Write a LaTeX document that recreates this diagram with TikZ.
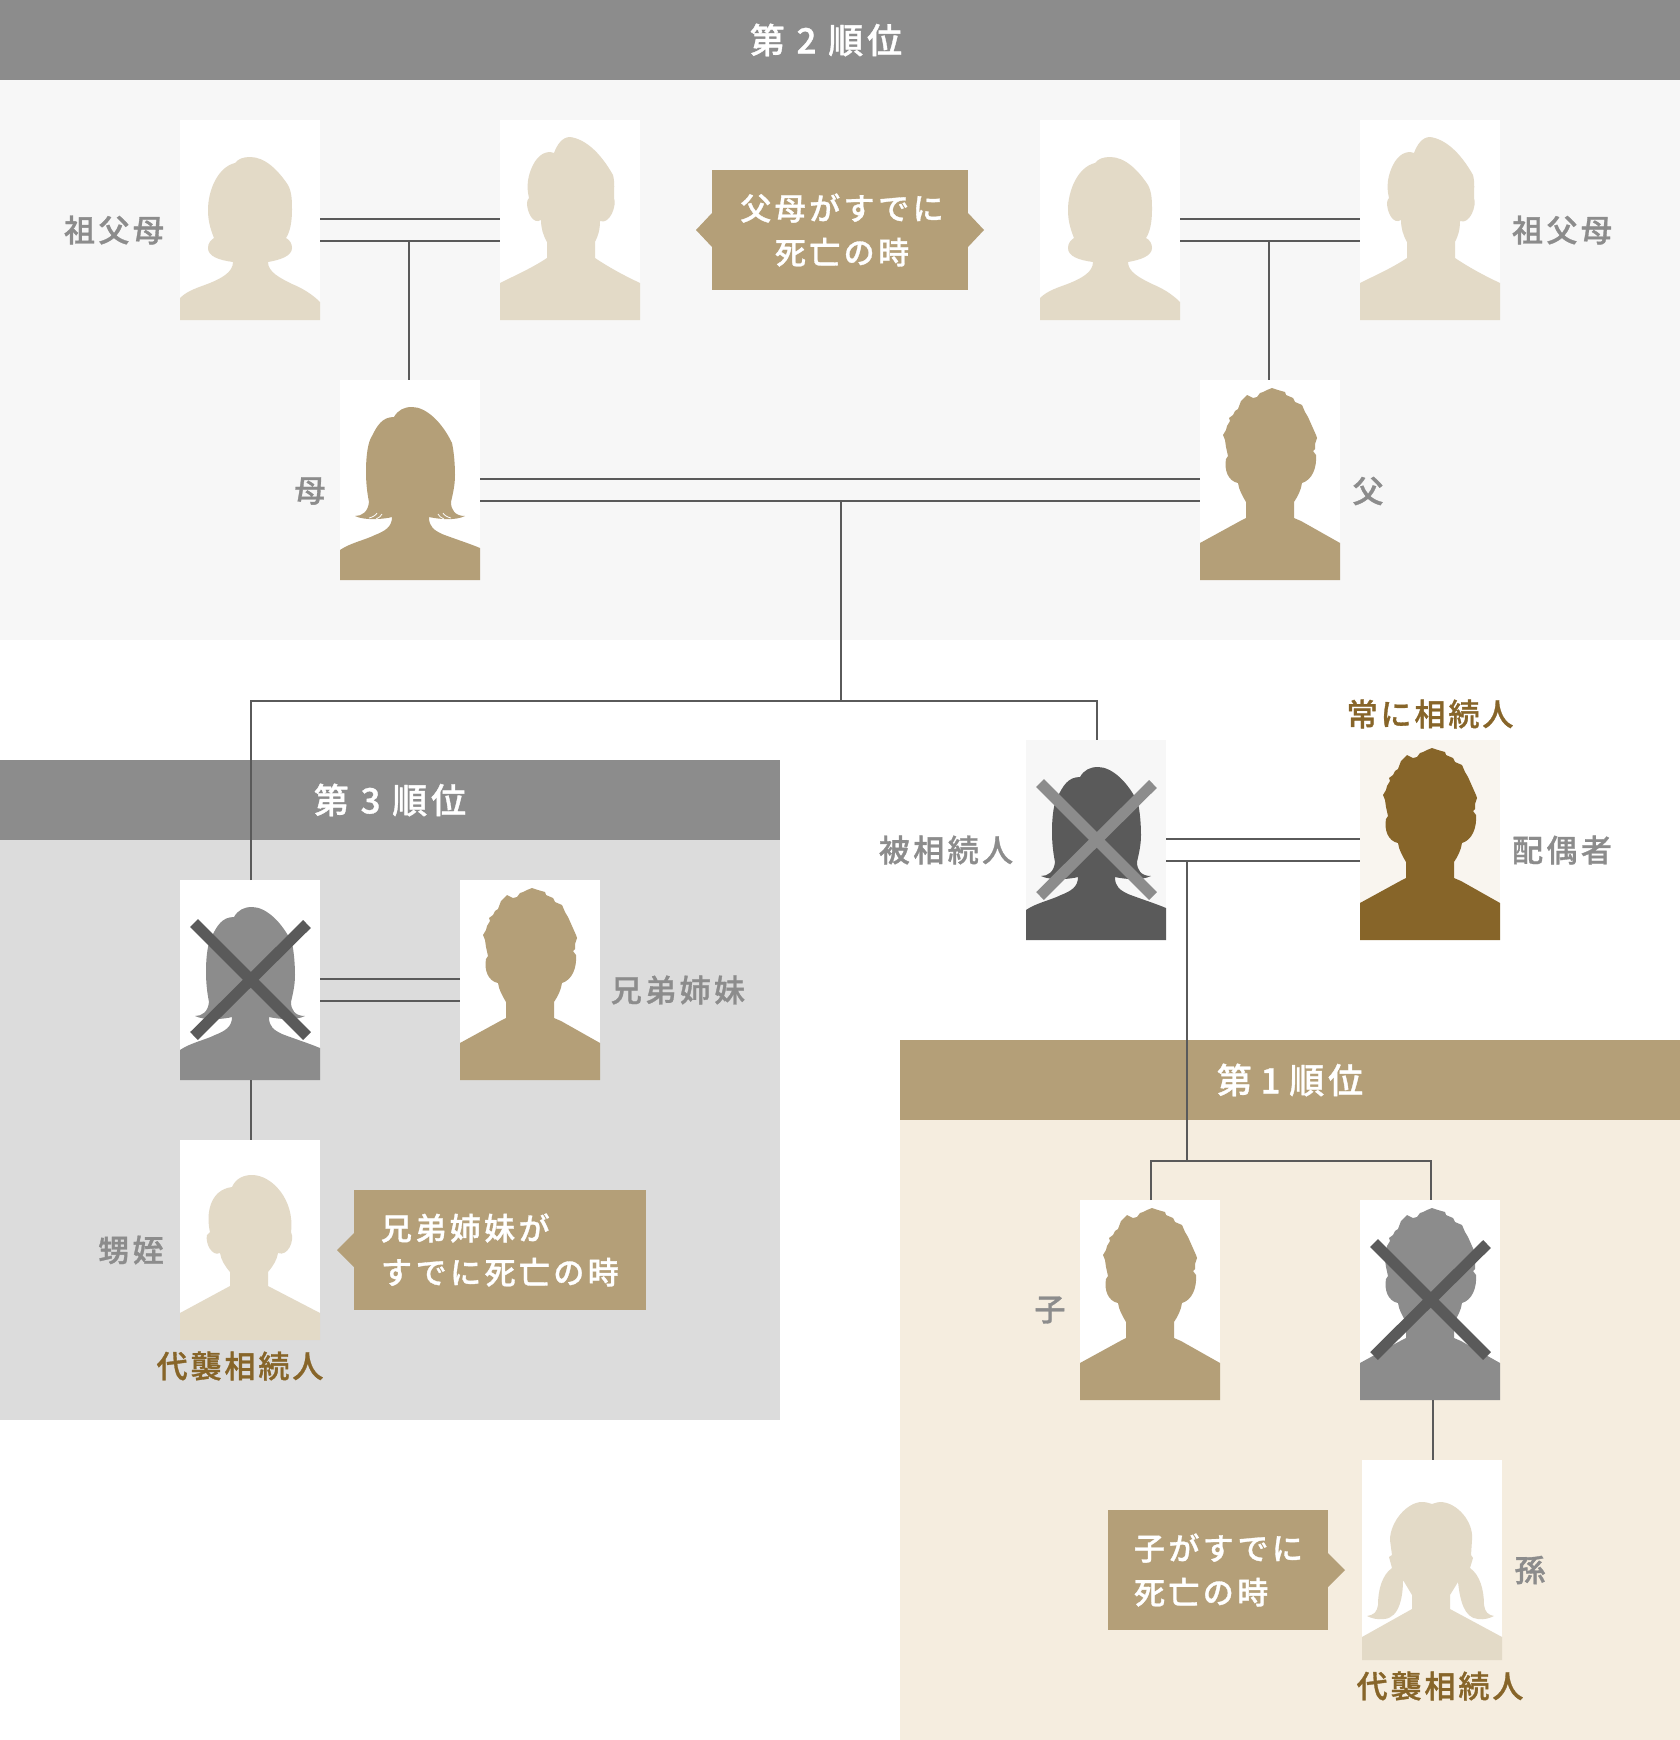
\documentclass[tikz,border=0pt]{standalone}
\usepackage{fontspec}
\setmainfont{Noto Sans CJK JP}[LetterSpace=11]
\newfontfamily\jpm{Noto Sans CJK JP Medium}[LetterSpace=11,FakeBold=1]
\newfontfamily\jph{Noto Sans CJK JP Medium}[LetterSpace=9.5,FakeBold=1]
\definecolor{bandgray}{HTML}{8C8C8C}
\definecolor{panelA}{HTML}{F7F7F7}
\definecolor{panelB}{HTML}{DCDCDC}
\definecolor{panelC}{HTML}{F5EDDF}
\definecolor{tan}{HTML}{B49F78}
\definecolor{pale}{HTML}{E3DAC7}
\definecolor{linegray}{HTML}{5A5A5A}
\definecolor{gold}{HTML}{876529}
\definecolor{spousebg}{HTML}{F9F5EF}
\tikzset{
 band/.style={rectangle,inner sep=0,outer sep=0,text=white,font=\jpm\fontsize{35}{40}\selectfont},
 panel/.style={rectangle,inner sep=0,outer sep=0},
 photo/.style={rectangle,fill=white,minimum width=140,minimum height=200,inner sep=0,outer sep=0},
 lbl/.style={inner sep=0,outer sep=0,text=bandgray,font=\jpm\fontsize{31}{36}\selectfont},
 heir/.style={inner sep=0,outer sep=0,text=gold,font=\jph\fontsize{31}{36}\selectfont},
 callout/.style={rectangle,fill=tan,inner sep=0,outer sep=0,minimum height=120,text=white,font=\jpm\fontsize{31}{44}\selectfont},
 conn/.style={draw=linegray,line width=2pt},
 xbar/.style={line width=11pt},
 pics/womanold/.style={code={\fill[#1] (0,200) -- (0,178) .. controls (8,170) and (20,167) .. (30,163) .. controls (42,158) and (53,152) .. (53,142) .. controls (38,140) and (28,136) .. (28,128) .. controls (28,123) and (31,120) .. (34,118) .. controls (30,108) and (28,100) .. (28,90) .. controls (28,70) and (38,47) .. (55,43) .. controls (58,39) and (63,37) .. (70,37) .. controls (85,37) and (98,50) .. (108,65) .. controls (112,72) and (112,82) .. (112,90) .. controls (112,102) and (110,112) .. (106,118) .. controls (110,120) and (112,124) .. (112,128) .. controls (112,136) and (100,140) .. (88,142) .. controls (88,152) and (100,158) .. (112,164) .. controls (122,168) and (132,174) .. (140,182) -- (140,200) -- cycle;}},
 pics/womanlong/.style={code={\fill[#1] (0,200) -- (0,170) .. controls (10,163) and (25,160) .. (35,155) .. controls (45,151) and (52,147) .. (52,137) .. controls (45,139) and (25,141) .. (15,136) .. controls (22,136) and (28,132) .. (29,122) .. controls (27,112) and (26,102) .. (26,92) .. controls (26,75) and (28,62) .. (32,56) .. controls (37,46) and (42,37) .. (54,37) .. controls (58,30) and (64,27) .. (72,27) .. controls (86,27) and (102,42) .. (112,63) .. controls (114,72) and (115,85) .. (115,95) .. controls (115,105) and (113,113) .. (111,122) .. controls (111,130) and (115,136) .. (125,136) .. controls (115,141) and (98,139) .. (89,137) .. controls (89,147) and (94,150) .. (102,154) .. controls (115,159) and (128,163) .. (140,168) -- (140,200) -- cycle;}},
 pics/hairslits/.style={code={\draw[white,line width=.8pt] (29,138) .. controls (33,137) and (36,135) .. (37,133); \draw[white,line width=.8pt] (36,139) .. controls (39,138) and (41,136) .. (42,134); \draw[white,line width=.8pt] (111,138) .. controls (107,137) and (104,135) .. (103,133); \draw[white,line width=.8pt] (104,139) .. controls (101,138) and (99,136) .. (98,134);}},
 pics/manold/.style={code={\fill[#1] (0,200) -- (0,163) .. controls (16,155) and (32,148) .. (47,138) -- (47,122) .. controls (43,115) and (41,108) .. (41,100) .. controls (33,105) and (27,92) .. (27,83) .. controls (27,81) and (28,79) .. (29,78) .. controls (26,66) and (28,55) .. (33,45) .. controls (38,35) and (46,30) .. (54,33) .. controls (57,25) and (62,17) .. (70,17) .. controls (85,19) and (100,32) .. (113,55) .. controls (115,63) and (114,70) .. (114,78) .. controls (117,85) and (110,105) .. (100,101) .. controls (100,110) and (98,116) .. (95,122) -- (95,138) .. controls (110,148) and (125,156) .. (140,163) -- (140,200) -- cycle;}},
 pics/boy/.style={code={\fill[#1] (0,200) -- (0,173) -- (50,146) -- (50,132) .. controls (45,126) and (41,120) .. (40,113) .. controls (32,117) and (25,103) .. (27,95) -- (30,92) .. controls (26,75) and (29,50) .. (52,47) .. controls (56,38) and (64,35) .. (72,35) .. controls (92,35) and (115,60) .. (111,92) .. controls (115,100) and (108,117) .. (98,113) .. controls (97,120) and (93,126) .. (88,132) -- (88,146) -- (140,173) -- (140,200) -- cycle;}},
 pics/manspiky/.style={code={\fill[#1] (0,200) -- (0,163) -- (42,140) -- (46,138) -- (46,122) .. controls (42,115) and (39,110) .. (38,103) .. controls (28,101) and (24,90) .. (26,79) -- (28,76) -- (26,67) -- (25,60) -- (23,55) -- (26,50) -- (27,46) -- (30,41) -- (29,38) -- (33,35) -- (35,31) -- (38,29) -- (41,21) -- (47,15) -- (53,18) -- (57,17) -- (60,13) -- (63,12) -- (67,10) -- (72,8) -- (78,10) -- (85,12) -- (86,15) -- (93,18) -- (95,22) -- (102,25) -- (105,32) -- (108,37) -- (112,46) -- (116,55) -- (117,58) -- (115,64) -- (115,69) -- (113,71) -- (116,75) .. controls (117,88) and (112,100) .. (102,103) .. controls (101,110) and (98,116) .. (94,122) -- (94,138) -- (101,141) -- (140,163) -- (140,200) -- cycle;}},
 pics/girl/.style={code={\fill[#1] (0,200) -- (0,177) -- (50,149) -- (50,135) -- (41,120) .. controls (41,135) and (38,158) .. (22,159) .. controls (15,160) and (9,158) .. (5,156) .. controls (12,155) and (15,152) .. (16,145) .. controls (16,130) and (20,115) .. (30,108) -- (27,97) -- (30,95) -- (28,80) .. controls (28,62) and (45,42) .. (60,42) .. controls (64,42) and (67,43) .. (70,44) .. controls (73,43) and (76,42) .. (78,42) .. controls (95,42) and (112,62) .. (110,80) -- (109,95) -- (111,98) -- (108,108) .. controls (118,115) and (122,130) .. (122,145) .. controls (123,152) and (126,155) .. (132,156) .. controls (128,158) and (122,160) .. (116,159) .. controls (102,158) and (98,140) .. (96,122) -- (88,135) -- (88,149) -- (140,177) -- (140,200) -- cycle;}},
 pics/xmark/.style={code={\draw[xbar,#1] (14,43) -- (127,156); \draw[xbar,#1] (127,44) -- (14,156);}},
}
\begin{document}
\begin{tikzpicture}[x=1pt,y=-1pt]
\useasboundingbox (0,0) rectangle (1680,1740);
% panels
\node[panel,fill=panelA,minimum width=1680,minimum height=560] (pa) at (840,360) {};
\node[panel,fill=panelB,minimum width=780,minimum height=580] (pb) at (390,1130) {};
\node[panel,fill=panelC,minimum width=780,minimum height=620] (pc) at (1290,1430) {};
\node[band,fill=bandgray,minimum width=1680,minimum height=80] (h2) at (840,40) {\hspace*{-28pt}第 2 順位};
\node[band,fill=bandgray,minimum width=780,minimum height=80] (h3) at (390,800) {第 3 順位};
\node[band,fill=tan,minimum width=780,minimum height=80] (h1) at (1290,1080) {第\kern-3pt{} 1 \kern-3pt順位};
% photos
\node[photo] (gm1) at (250,220) {};
\node[photo] (gf1) at (570,220) {};
\node[photo] (gm2) at (1110,220) {};
\node[photo] (gf2) at (1430,220) {};
\node[photo] (mo) at (410,480) {};
\node[photo] (fa) at (1270,480) {};
\node[photo,fill=panelA] (de) at (1096,840) {};
\node[photo,fill=spousebg] (sp) at (1430,840) {};
\node[photo] (si) at (250,980) {};
\node[photo] (br) at (530,980) {};
\node[photo] (ne) at (250,1240) {};
\node[photo] (ch) at (1150,1300) {};
\node[photo] (dc) at (1430,1300) {};
\node[photo] (gc) at (1432,1560) {};
% silhouettes
\pic at (gm1.north west) {womanold=pale};
\pic at (gf1.north west) {manold=pale};
\pic at (gm2.north west) {womanold=pale};
\pic at (gf2.north west) {manold=pale};
\pic at (mo.north west) {womanlong=tan};
\pic at (mo.north west) {hairslits};
\pic at (fa.north west) {manspiky=tan};
\pic at (de.north west) {womanlong=linegray};
\pic at (de.north west) {xmark=bandgray};
\pic at (sp.north west) {manspiky=gold};
\pic at (si.north west) {womanlong=bandgray};
\pic at (si.north west) {xmark=linegray};
\pic at (br.north west) {manspiky=tan};
\pic at (ne.north west) {boy=pale};
\pic at (ch.north west) {manspiky=tan};
\pic at (dc.north west) {manspiky=bandgray};
\pic at (dc.north west) {xmark=linegray};
\pic at (gc.north west) {girl=pale};
% junctions
\coordinate (jl) at (409,241);
\coordinate (jr) at (1269,241);
\coordinate (jp) at (841,501);
\coordinate (tl) at (251,701);
\coordinate (tm) at (841,701);
\coordinate (tr) at (1097,701);
\coordinate (js) at (1187,861);
\coordinate (cm) at (1187,1161);
\coordinate (cl) at (1151,1161);
\coordinate (cr) at (1431,1161);
\coordinate (vg) at (1433,1430);
\coordinate (vn) at (251,1110);
% connectors
\draw[conn] ([yshift=1pt]gm1.east) -- ([yshift=1pt]gf1.west);
\draw[conn] ([yshift=-21pt]gm1.east) -- ([yshift=-21pt]gf1.west);
\draw[conn] ([yshift=1pt]gm2.east) -- ([yshift=1pt]gf2.west);
\draw[conn] ([yshift=-21pt]gm2.east) -- ([yshift=-21pt]gf2.west);
\draw[conn] (jl) -- (jl |- mo.north);
\draw[conn] (jr) -- (jr |- fa.north);
\draw[conn] ([yshift=1pt]mo.east) -- ([yshift=1pt]fa.west);
\draw[conn] ([yshift=-21pt]mo.east) -- ([yshift=-21pt]fa.west);
\draw[conn] (jp) -- (tm);
\draw[conn] (tl |- si.north) -- (tl) -- (tr) -- (tr |- de.north);
\draw[conn] ([yshift=1pt]de.east) -- ([yshift=1pt]sp.west);
\draw[conn] ([yshift=-21pt]de.east) -- ([yshift=-21pt]sp.west);
\draw[conn] (js) -- (cm);
\draw[conn] (cl |- ch.north) -- (cl) -- (cr) -- (cr |- dc.north);
\draw[conn] ([yshift=1pt]si.east) -- ([yshift=1pt]br.west);
\draw[conn] ([yshift=-21pt]si.east) -- ([yshift=-21pt]br.west);
\draw[conn] (vn |- si.south) -- (vn |- ne.north);
\draw[conn] (vg |- dc.south) -- (vg |- gc.north);
% callouts
\node[callout,minimum width=256,align=center] (c1) at (840,230) {\hspace*{4pt}父母がすでに\\\hspace*{4pt}死亡の時};
\fill[tan] ([yshift=17pt]c1.west) -- ++(-16,17) -- ++(16,17) -- cycle;
\fill[tan] ([yshift=17pt]c1.east) -- ++(16,17) -- ++(-16,17) -- cycle;
\node[callout,minimum width=292,align=left,text width=256] (c2) at (500,1250) {\hspace*{9pt}兄弟姉妹が\\\hspace*{9pt}すでに死亡の時};
\fill[tan] ([yshift=17pt]c2.west) -- ++(-17,17) -- ++(17,17) -- cycle;
\node[callout,minimum width=220,align=left,text width=192] (c3) at (1218,1570) {\hspace*{12pt}子がすでに\\\hspace*{12pt}死亡の時};
\fill[tan] ([yshift=17pt]c3.east) -- ++(17,17) -- ++(-17,17) -- cycle;
% labels
\node[lbl] (l1) at (114,230) {祖父母};
\node[lbl] (l2) at (1562,230) {祖父母};
\node[lbl] (l3) at (310,491) {母};
\node[lbl] (l4) at (1368,491) {父};
\node[lbl] (l5) at (946,850) {被相続人};
\node[lbl] (l6) at (1562,850) {配偶者};
\node[heir] (l7) at (1430,714) {常に相続人};
\node[lbl] (l8) at (678,990) {兄弟姉妹};
\node[lbl] (l9) at (131,1250) {甥姪};
\node[heir] (l10) at (240,1366) {代襲相続人};
\node[lbl] (l11) at (1050,1310) {子};
\node[lbl] (l12) at (1530,1570) {孫};
\node[heir] (l13) at (1440,1686) {代襲相続人};
\end{tikzpicture}
\end{document}
